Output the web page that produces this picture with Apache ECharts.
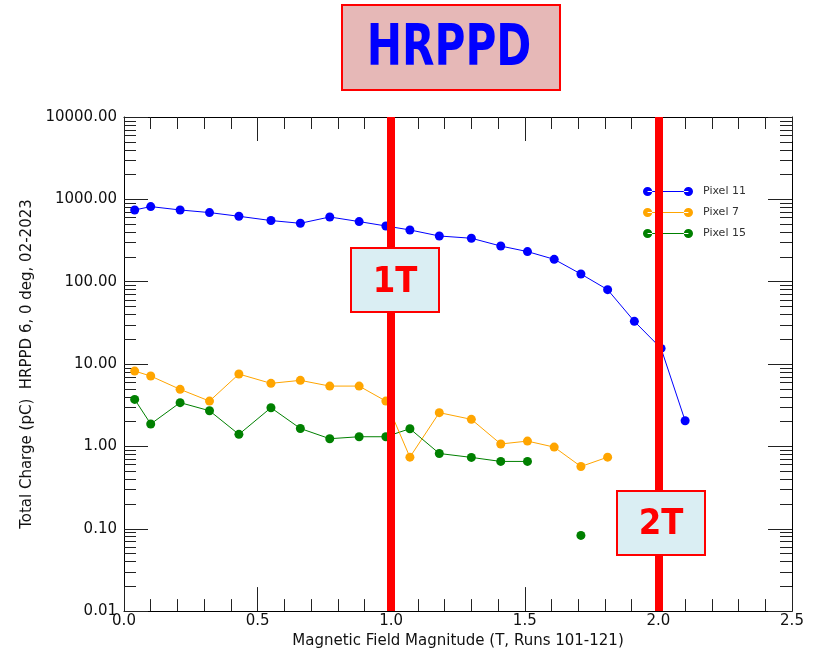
<!DOCTYPE html>
<html>
<head>
<meta charset="utf-8">
<title>HRPPD total charge vs magnetic field</title>
<script src="https://cdn.jsdelivr.net/npm/echarts@6/dist/echarts.min.js"></script>
<style>
  html, body { margin: 0; padding: 0; background: #ffffff; }
  #chart { width: 813px; height: 654px; }
</style>
</head>
<body>
<div id="chart"></div>
<script>
// Magnetic field magnitude (T) for runs 101-121
const fieldT = [0.04, 0.10, 0.21, 0.32, 0.43, 0.55, 0.66, 0.77, 0.88, 0.98,
                1.07, 1.18, 1.30, 1.41, 1.51, 1.61, 1.71, 1.81, 1.91, 2.01, 2.10];

// Total charge (pC) per pixel; null = no measurement
const pixel11 = [743, 817, 743, 691, 623, 553, 512, 611, 537, 475,
                 425, 359, 337, 271, 232, 187, 124, 80, 33, 15.5, 2.05];
const pixel7  = [8.22, 7.15, 4.93, 3.55, 7.56, 5.83, 6.34, 5.40, 5.40, 3.55,
                 0.74, 2.57, 2.13, 1.07, 1.16, 0.98, 0.57, 0.74];
const pixel15 = [3.72, 1.87, 3.40, 2.71, 1.40, 2.95, 1.65, 1.24, 1.31, 1.31,
                 1.64, 0.82, 0.735, 0.657, 0.657, null, 0.083];

const seriesNames = ['Pixel 11', 'Pixel 7', 'Pixel 15'];
const seriesColors = ['#0000ff', '#ffa500', '#008000'];
const seriesValues = [pixel11, pixel7, pixel15];

// Field values marked with vertical reference lines
const fieldMarks = [1.0, 2.0];
const fieldMarkLabels = ['1T', '2T'];

// Axis extents and tick labels
const xMin = 0, xMax = 2.5, xStep = 0.5;
const yMin = 0.01, yMax = 10000;
const yTickLabels = [0.01, 0.1, 1, 10, 100, 1000, 10000];

// Log-decade minor tick positions (in exponent space) for the helper axes
const minorExp = [];
for (let e = -2; e < 4; e++) {
  for (let k = 2; k <= 9; k++) minorExp.push(e + Math.log10(k));
}

const FONT = 'DejaVu Sans';

function pairs(values) {
  return values.map((v, i) => [fieldT[i], v === null ? '-' : v]);
}

const lineSeries = seriesNames.map((name, i) => ({
  name: name,
  type: 'line',
  data: pairs(seriesValues[i]),
  xAxisIndex: 0,
  yAxisIndex: 0,
  symbol: 'circle',
  symbolSize: 9,
  showSymbol: true,
  showAllSymbol: true,
  connectNulls: false,
  color: seriesColors[i],
  lineStyle: { width: 1, color: seriesColors[i] },
  itemStyle: { color: seriesColors[i] },
  emphasis: { disabled: true },
  z: 3 - i
}));

// Legend icon: two dots joined by a thin line
const legendIcon = 'path://M0.5,5a4.5,4.5 0 1,0 9,0a4.5,4.5 0 1,0 -9,0Z' +
  'M40.5,5a4.5,4.5 0 1,0 9,0a4.5,4.5 0 1,0 -9,0Z M5,4.5h40v1h-40Z';

const tickColor = '#222';

function boxGraphic(x, y, w, h, fill, label, font, scaleX, tx, ty, color) {
  return [
    {
      type: 'rect',
      shape: { x: x, y: y, width: w, height: h },
      style: { fill: fill, stroke: '#ff0000', lineWidth: 2 },
      z: 100
    },
    {
      type: 'text',
      x: tx, y: ty,
      scaleX: scaleX,
      style: {
        text: label, fill: color, font: font,
        textAlign: 'center', textVerticalAlign: 'middle'
      },
      z: 101
    }
  ];
}

const graphics = [].concat(
  boxGraphic(342, 5, 218, 85, '#e6b8b7', 'HRPPD', 'bold 57px "' + FONT + '"', 0.74, 449, 50, '#0000ff'),
  boxGraphic(351, 248, 88, 64, '#daeef3', fieldMarkLabels[0], 'bold 36px "' + FONT + '"', 0.9, 395, 283, '#ff0000'),
  boxGraphic(617, 491, 88, 64, '#daeef3', fieldMarkLabels[1], 'bold 36px "' + FONT + '"', 0.9, 661, 525, '#ff0000')
);

const option = {
  animation: false,
  backgroundColor: '#ffffff',
  textStyle: { fontFamily: FONT },
  grid: { left: 124, right: 21, top: 117, bottom: 42 },
  legend: {
    data: seriesNames,
    orient: 'vertical',
    left: 638, top: 181,
    itemWidth: 50, itemHeight: 10, itemGap: 10,
    icon: legendIcon,
    selectedMode: false,
    textStyle: { fontFamily: FONT, fontSize: 11, color: '#333', padding: [0, 0, 0, 5] }
  },
  xAxis: [
    {
      type: 'value', position: 'bottom', min: xMin, max: xMax, interval: xStep,
      name: 'Magnetic Field Magnitude (T, Runs 101-121)',
      nameLocation: 'middle', nameGap: 20,
      nameTextStyle: { fontFamily: FONT, fontSize: 15, color: '#111' },
      axisLine: { show: true, onZero: false, lineStyle: { color: '#000', width: 1 } },
      axisTick: { show: true, inside: true, length: 24, lineStyle: { color: tickColor } },
      minorTick: { show: true, splitNumber: 5, length: 12, lineStyle: { color: tickColor } },
      axisLabel: {
        fontFamily: FONT, fontSize: 15, color: '#111', margin: 3,
        formatter: v => v.toFixed(1)
      },
      splitLine: { show: false }
    },
    {
      type: 'value', position: 'top', min: xMin, max: xMax, interval: xStep,
      axisLine: { show: true, onZero: false, lineStyle: { color: '#000', width: 1 } },
      axisTick: { show: true, inside: true, length: 24, lineStyle: { color: tickColor } },
      minorTick: { show: true, splitNumber: 5, length: 12, lineStyle: { color: tickColor } },
      axisLabel: { show: false },
      splitLine: { show: false }
    }
  ],
  yAxis: [
    {
      type: 'log', logBase: 10, position: 'left', min: yMin, max: yMax,
      name: 'Total Charge (pC)  HRPPD 6, 0 deg, 02-2023',
      nameLocation: 'middle', nameGap: 89,
      nameTextStyle: { fontFamily: FONT, fontSize: 15, color: '#111' },
      axisLine: { show: true, onZero: false, lineStyle: { color: '#000', width: 1 } },
      axisTick: { show: true, inside: true, length: 24, lineStyle: { color: tickColor } },
      axisLabel: {
        fontFamily: FONT, fontSize: 15, color: '#111', margin: 7,
        formatter: v => {
          const near = yTickLabels.find(t => Math.abs(Math.log10(t) - Math.log10(v)) < 1e-6);
          return (near !== undefined ? near : v).toFixed(2);
        }
      },
      splitLine: { show: false }
    },
    {
      // helper axis carrying the log minor ticks on the left side
      type: 'value', position: 'left', min: -2, max: 4,
      axisLine: { show: false, onZero: false },
      axisTick: { show: true, inside: true, length: 12, customValues: minorExp, lineStyle: { color: tickColor } },
      axisLabel: { show: false },
      splitLine: { show: false }
    },
    {
      type: 'log', logBase: 10, position: 'right', min: yMin, max: yMax,
      axisLine: { show: true, onZero: false, lineStyle: { color: '#000', width: 1 } },
      axisTick: { show: true, inside: true, length: 24, lineStyle: { color: tickColor } },
      axisLabel: { show: false },
      splitLine: { show: false }
    },
    {
      type: 'value', position: 'right', min: -2, max: 4,
      axisLine: { show: false, onZero: false },
      axisTick: { show: true, inside: true, length: 12, customValues: minorExp, lineStyle: { color: tickColor } },
      axisLabel: { show: false },
      splitLine: { show: false }
    }
  ],
  series: lineSeries.concat([
    {
      name: 'field marks',
      type: 'line',
      data: [],
      xAxisIndex: 0,
      yAxisIndex: 0,
      z: 10,
      silent: true,
      markLine: {
        silent: true,
        symbol: ['none', 'none'],
        label: { show: false },
        lineStyle: { color: '#ff0000', width: 8, type: 'solid' },
        emphasis: { disabled: true },
        data: fieldMarks.map(v => ({ xAxis: v }))
      }
    }
  ]),
  graphic: graphics
};

const chart = echarts.init(document.getElementById('chart'), null, { renderer: 'canvas' });
chart.setOption(option);
</script>
</body>
</html>
